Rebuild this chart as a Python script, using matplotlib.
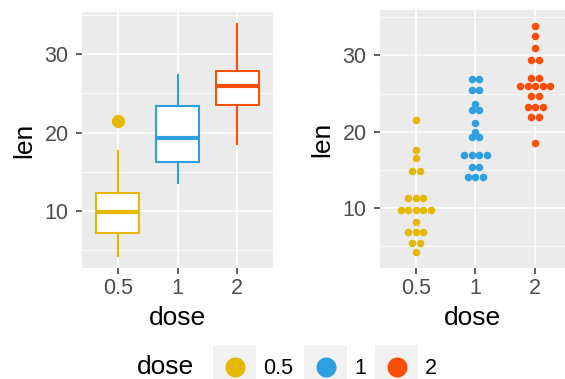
import numpy as np
import matplotlib
matplotlib.use('Agg')
import matplotlib.pyplot as plt
from matplotlib.patches import Rectangle

plt.rcParams['font.family'] = ['Liberation Sans', 'DejaVu Sans']

# ToothGrowth: tooth length by vitamin C dose
doses = ['0.5', '1', '2']
len_05 = [4.2, 11.5, 7.3, 5.8, 6.4, 10, 11.2, 11.2, 5.2, 7,
          15.2, 21.5, 17.6, 9.7, 14.5, 10, 8.2, 9.4, 16.5, 9.7]
len_1 = [16.5, 16.5, 15.2, 17.3, 22.5, 17.3, 13.6, 14.5, 18.8, 15.5,
         19.7, 23.3, 23.6, 26.4, 20, 25.2, 25.8, 21.2, 14.5, 27.3]
len_2 = [23.6, 18.5, 33.9, 25.5, 26.4, 32.5, 26.7, 21.5, 23.3, 29.5,
         25.5, 26.4, 22.4, 24.5, 24.8, 30.9, 26.4, 27.3, 29.4, 23]
groups = [len_05, len_1, len_2]
colors = ['#E7B800', '#2E9FDF', '#FC4E07']

W, H = 565, 379
fig = plt.figure(figsize=(W / 100, H / 100), dpi=100)


def px_axes(l, t, r, b):
    return fig.add_axes([l / W, 1 - b / H, (r - l) / W, (b - t) / H])


def style(ax):
    ax.set_facecolor('#EBEBEB')
    for s in ax.spines.values():
        s.set_visible(False)
    ax.set_axisbelow(True)
    ax.grid(which='major', color='white', lw=1.1)
    ax.grid(which='minor', axis='y', color='white', lw=0.55)
    ax.set_yticks([10, 20, 30])
    ax.set_yticks([5, 15, 25, 35], minor=True)
    ax.tick_params(which='minor', length=0)
    ax.tick_params(which='major', length=4.3, width=1.1, color='#333333',
                   labelsize=15.5, labelcolor='#4D4D4D')
    ax.tick_params(axis='x', pad=2.8)
    ax.tick_params(axis='y', pad=5.3)
    ax.set_xticks([1, 2, 3])
    ax.set_xticklabels(doses)
    ax.set_xlabel('dose', fontsize=19, labelpad=5)
    ax.set_ylabel('len', fontsize=19, labelpad=6)


# ---- left: boxplot
ax1 = px_axes(82, 12, 273, 268)
for i, (vals, c) in enumerate(zip(groups, colors)):
    ax1.boxplot(vals, positions=[i + 1], widths=0.72, patch_artist=True,
                showcaps=False,
                boxprops=dict(facecolor='white', edgecolor=c, lw=1.5),
                medianprops=dict(color=c, lw=3.0),
                whiskerprops=dict(color=c, lw=1.5),
                flierprops=dict(marker='o', markerfacecolor=c,
                                markeredgecolor=c, markersize=8.5))
ax1.set_xlim(0.4, 3.6)
ax1.set_ylim(2.715, 35.385)
style(ax1)

# ---- right: dotplot (dotdensity binning, centred stacks)
ax2 = px_axes(380, 10, 565, 268)
ax2.set_xlim(0.4, 3.5)
ax2.set_ylim(2.17, 35.93)
style(ax2)

allv = np.concatenate(groups)
binwidth = (allv.max() - allv.min()) / 30
px_per_y = 258 / (35.93 - 2.17)
px_per_x = 185 / (3.5 - 0.4)
diam_px = binwidth * px_per_y
dx = diam_px / px_per_x
s = (diam_px * 72 / 100) ** 2

for i, (vals, c) in enumerate(zip(groups, colors)):
    v = np.sort(vals)
    j = 0
    xs, ys = [], []
    while j < len(v):
        start = v[j]
        k = j
        while k < len(v) and v[k] < start + binwidth - 1e-9:
            k += 1
        center = (v[j] + v[k - 1]) / 2
        n = k - j
        for m in range(n):
            xs.append(i + 1 + (m - (n - 1) / 2) * dx)
            ys.append(center)
        j = k
    ax2.scatter(xs, ys, s=s, color=c, linewidths=0, zorder=3)

# ---- legend at bottom
lg = fig.add_axes([0, 0, 1, 1])
lg.set_xlim(0, W)
lg.set_ylim(H, 0)
lg.axis('off')
lg.text(137, 367, 'dose', fontsize=19, va='center', ha='left')
key_x = [213, 304, 375]
for kx, c, lab in zip(key_x, colors, doses):
    lg.add_patch(Rectangle((kx, 345), 43, 44, color='#F2F2F2', lw=0))
    lg.scatter([kx + 21.5], [367], s=(20 * 0.72) ** 2, color=c, linewidths=0)
    lg.text(kx + 50, 368, lab, fontsize=15.5, va='center', ha='left')

fig.savefig('out.png', dpi=100)
